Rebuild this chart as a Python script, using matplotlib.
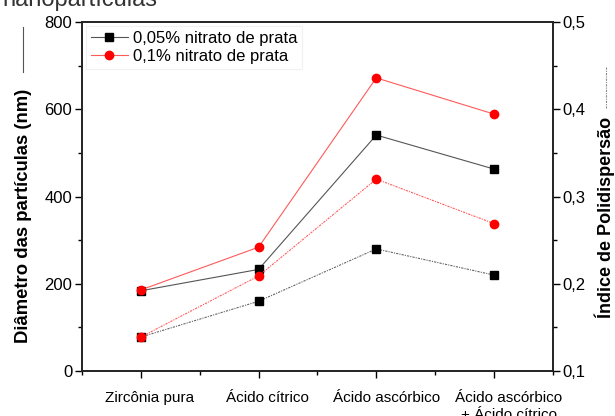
import matplotlib
matplotlib.use("Agg")
import matplotlib.pyplot as plt
from matplotlib.lines import Line2D
from matplotlib.ticker import MultipleLocator, FuncFormatter
from matplotlib.transforms import ScaledTranslation

plt.rcParams["font.family"] = ["Liberation Sans", "DejaVu Sans"]

# sample series
categories = ["Zircônia pura", "Ácido cítrico", "Ácido ascórbico",
              "Ácido ascórbico\n+ Ácido cítrico"]
diam_005 = [184, 233, 541, 463]      # nm, 0,05% AgNO3
diam_01 = [186, 284, 672, 589]       # nm, 0,1% AgNO3
pdi_005 = [0.139, 0.180, 0.240, 0.210]
pdi_01 = [0.139, 0.209, 0.320, 0.269]

x = list(range(1, len(categories) + 1))

BLACK_LINE = "#555555"
RED = "#ff0000"
RED_LINE = "#ff5a5a"
DOTTED = (0, (2, 1, 1, 1))

fig = plt.figure(figsize=(6.15, 4.16), dpi=100)
ax = fig.add_axes([0.1333, 0.108, 0.7657, 0.839])
ax2 = ax.twinx()

# particle diameter (left axis, solid lines)
ax.plot(x, diam_005, color=BLACK_LINE, lw=0.8, marker="s", ms=5.2,
        mfc="black", mec="black", label="0,05% nitrato de prata", zorder=3)
ax.plot(x, diam_01, color=RED_LINE, lw=0.8, marker="o", ms=6,
        mfc=RED, mec=RED, label="0,1% nitrato de prata", zorder=3)

# polydispersity index (right axis, dotted lines)
ax2.plot(x, pdi_005, color="#666666", lw=0.8, ls=DOTTED, marker="s", ms=5.2,
         mfc="black", mec="black")
ax2.plot(x, pdi_01, color=RED_LINE, lw=0.8, ls=DOTTED, marker="o", ms=6,
         mfc=RED, mec=RED)

ax.set_xlim(0.5, 4.5)
ax.set_ylim(0, 800)
ax2.set_ylim(0.1, 0.5)

ax.set_xticks(x)
ax.set_xticklabels(categories, fontsize=11, linespacing=1.3)
ax.xaxis.set_minor_locator(MultipleLocator(0.5))
ax.yaxis.set_major_locator(MultipleLocator(200))
ax.yaxis.set_minor_locator(MultipleLocator(100))
ax2.yaxis.set_major_locator(MultipleLocator(0.1))
ax2.yaxis.set_minor_locator(MultipleLocator(0.05))
ax2.yaxis.set_major_formatter(FuncFormatter(lambda v, p: f"{v:.1f}".replace(".", ",")))

for a in (ax, ax2):
    a.tick_params(which="major", direction="out", length=5, width=1,
                  labelsize=12, pad=2)
    a.tick_params(which="minor", direction="out", length=3, width=1)
    for s in a.spines.values():
        s.set_linewidth(1.2)
        s.set_color("#222222")
ax.tick_params(axis="x", which="major", labelsize=11, pad=9)
ax2.tick_params(axis="y", which="both", right=True)

# category labels sit a little right of their ticks
for lbl, dx in zip(ax.get_xticklabels(), [9, 9, 10, 15]):
    lbl.set_transform(lbl.get_transform() + ScaledTranslation(dx / 100, 0, fig.dpi_scale_trans))

ax.set_ylabel("Diâmetro das partículas (nm)", fontsize=13.3, fontweight="bold")
ax.yaxis.set_label_coords(-0.106, 0.444)
ax2.set_ylabel("Índice de Polidispersão", fontsize=13, fontweight="bold")
ax2.yaxis.set_label_coords(1.089, 0.441)

leg = ax.legend(loc="upper left", fontsize=12, frameon=True, fancybox=False,
                borderpad=0.3, handlelength=2.2, handletextpad=0.3,
                labelspacing=0.15, borderaxespad=0.25)
leg.get_frame().set_edgecolor("#eeeeee")
leg.get_frame().set_linewidth(0.8)

# line-style keys beside the axis titles
fig.add_artist(Line2D([23 / 615, 23 / 615], [1 - 27 / 416, 1 - 72 / 416],
                      color="#555555", lw=0.8, transform=fig.transFigure))
fig.add_artist(Line2D([606 / 615, 606 / 615], [1 - 67 / 416, 1 - 108 / 416],
                      color="#888888", lw=0.8, ls=DOTTED, transform=fig.transFigure))

# end of the caption line above the chart
fig.text(2 / 615, 1 - 6 / 416, "nanopartículas", fontsize=17, va="baseline",
         color="#333333")

fig.savefig("out.png", dpi=100)
